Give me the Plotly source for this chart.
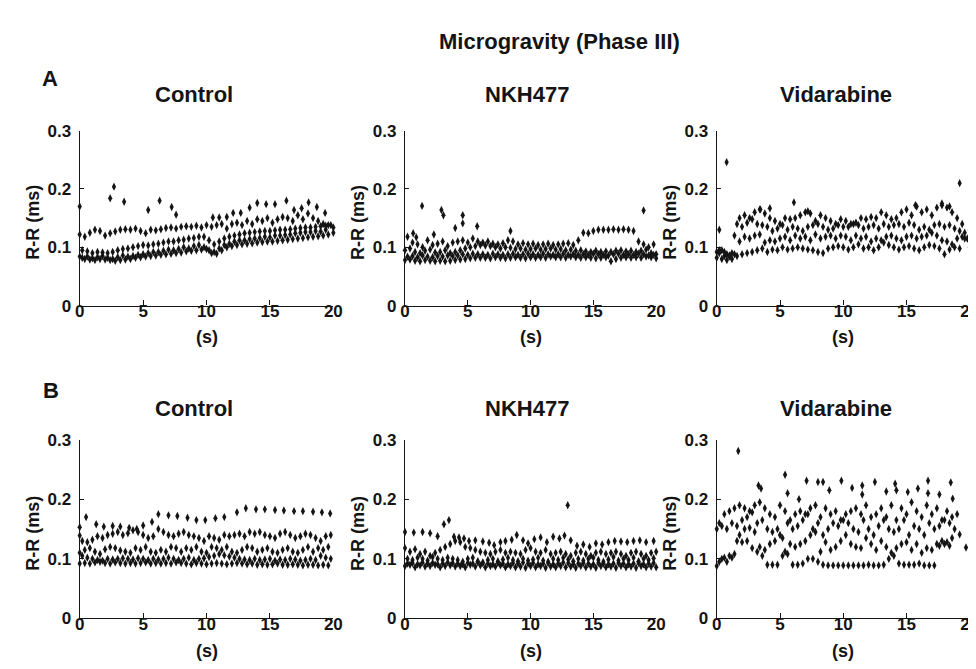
import plotly.graph_objects as go

# ---------------- data (R-R interval in thousandths of a second) ----------------
# beat-time grids (s)
t_even = [0.0, 0.4, 0.8, 1.2, 1.6, 2.0, 2.4, 2.8, 3.2, 3.6, 4.0, 4.4, 4.8, 5.2, 5.6, 6.0, 6.4,
          6.8, 7.2, 7.6, 8.0, 8.4, 8.8, 9.2, 9.6, 10.0, 10.4, 10.8, 11.2, 11.6, 12.0, 12.4, 12.8,
          13.2, 13.6, 14.0, 14.4, 14.8, 15.2, 15.6, 16.0, 16.4, 16.8, 17.2, 17.6, 18.0, 18.4,
          18.8, 19.2, 19.6, 20.0]
t_odd = [0.2, 0.6, 1.0, 1.4, 1.8, 2.2, 2.6, 3.0, 3.4, 3.8, 4.2, 4.6, 5.0, 5.4, 5.8, 6.2, 6.6,
         7.0, 7.4, 7.8, 8.2, 8.6, 9.0, 9.4, 9.8, 10.2, 10.6, 11.0, 11.4, 11.8, 12.2, 12.6, 13.0,
         13.4, 13.8, 14.2, 14.6, 15.0, 15.4, 15.8, 16.2, 16.6, 17.0, 17.4, 17.8, 18.2, 18.6,
         19.0, 19.4, 19.8]

# ---- A / Control
a1_low = [84, 80, 79, 78, 80, 79, 78, 77, 78, 79, 80, 82, 83, 84, 85, 86, 87, 88, 89, 90, 91,
          93, 94, 95, 96, 97, 90, 89, 95, 100, 102, 104, 105, 106, 107, 108, 109, 110, 110, 111,
          112, 113, 114, 115, 116, 117, 118, 119, 120, 122, 125]
a1_low2 = [82, 84, 81, 83, 85, 82, 80, 83, 86, 84, 85, 87, 88, 90, 92, 92, 94, 96, 95, 97,
           100, 98, 102, 104, 100, 95, 92, 98, 104, 106, 110, 112, 112, 114, 115, 116, 118, 117,
           120, 120, 121, 122, 124, 125, 126, 126, 128, 127, 130, None]
a1_mid = [95, 93, 90, 92, 91, 90, 92, 95, 97, 98, 100, 102, 104, 103, 105, 106, 108, 110, 110,
          112, 113, 115, 116, 118, 118, 112, 105, 110, 115, 118, 120, 122, 124, 125, 126, 127,
          128, 128, 129, 130, 130, 131, 132, 133, 134, 134, 135, 136, 137, 138]
a1_high = [122, 118, 125, 130, 128, 120, 124, 127, 130, 131, 130, 132, 128, 124, 130, 129, 131,
           133, 134, 132, 135, 136, 135, 137, 134, 138, 135, 138, 140, 132, 140, 142, 138, 145,
           140, 148, 145, 150, 142, 148, 152, 150, 145, 155, 148, 158, 150, 145, 140, 138, 134]
a1_top_t = [0.0, 2.4, 2.7, 3.5, 5.4, 6.3, 7.25, 7.6, 10.5, 11.0, 11.6, 12.1, 12.7, 13.4, 14.0,
            14.7, 15.4, 16.3, 16.9, 17.5, 18.05, 18.7, 19.35]
a1_top_rr = [170, 184, 204, 178, 164, 180, 169, 156, 151, 151, 152, 159, 159, 168, 176, 174,
             174, 180, 164, 167, 177, 169, 159]

# ---- A / NKH477
a2_low = [78, 79, 77, 76, 78, 77, 76, 77, 76, 77, 78, 79, 80, 81, 82, 82, 82, 81, 83, 82, 81,
          82, 83, 82, 81, 83, 82, 83, 82, 84, 83, 83, 82, 84, 83, 82, 83, 82, 81, 82, 83, 76,
          80, 82, 83, 82, 83, 82, 84, 83, 81]
a2_low2 = [84, 85, 83, 86, 84, 83, 85, 84, 86, 85, 86, 88, 87, 89, 88, 88, 87, 89, 88, 87, 88,
           89, 87, 88, 89, 88, 87, 89, 88, 87, 88, 89, 87, 88, 87, 88, 87, 89, 88, 87, 86, 88,
           89, 87, 88, 87, 89, 88, 86, 87]
a2_mid = [95, 98, 92, 90, 94, 96, 91, 92, 95, 90, 92, 95, 98, 100, 102, 104, 103, 102, 100, 98,
          100, 99, 97, 98, 96, 97, 98, 96, 97, 98, 96, 97, 95, 96, 94, 95, 93, 92, 94, 92, 93,
          92, 94, 95, 93, 94, 92, 94, 96, 90, 88]
a2_high = [118, 108, 105, 100, 112, 104, 106, 110, 102, 108, 110, 112, 108, 115, 110, 108, 110,
           106, 105, 107, 112, 110, 105, 107, 105, 106, 104, 105, 106, 104, 105, 106, 107, 104,
           112, 125, 124, 128, 130, 130, 130, 131, 130, 131, 130, 128, 110, 105, 100, 105]
a2_top_t = [0.65, 0.9, 1.36, 2.3, 2.9, 3.06, 4.0, 4.6, 4.6, 5.75, 8.4, 19.0]
a2_top_rr = [124, 117, 171, 122, 164, 155, 133, 155, 141, 136, 128, 163]

# ---- A / Vidarabine
a3_b1 = [82, 80, 78, 80, 85, 88, 90, 92, 95, 98, 92, 96, 95, 100, 96, 98, 100, 98, 96, 95, 92,
         90, 98, 100, 102, 100, 96, 100, 105, 98, 100, 95, 100, 108, 104, 100, 96, 100, 102, 98,
         95, 100, 104, 102, 98, 88, 96, 100, 98, 115, 100]
a3_b2 = [90, 85, 84, 88, 110, 118, 115, 120, 122, 108, 112, 110, 115, 118, 112, 120, 115, 118,
         112, 122, 115, 118, 120, 115, 120, 118, 112, 120, 115, 118, 110, 115, 112, 118, 120,
         115, 112, 118, 120, 115, 118, 120, 125, 120, 112, 110, 105, 115, 118, 115]
a3_b3 = [92, 95, 88, 90, 140, 135, 142, 148, 140, 138, 135, 128, 132, 138, 130, 135, 132, 128,
         135, 138, 140, 135, 130, 132, 138, 135, 135, 140, 138, 132, 135, 138, 132, 140, 135,
         138, 140, 135, 142, 138, 130, 135, 130, 138, 140, 135, 138, 132, 128, 125, 130]
a3_b4 = [95, 92, 86, 120, 150, 155, 150, 160, 165, 158, 150, 145, 140, 150, 148, 150, 155, 160,
         158, 145, 155, 150, 145, 140, 148, 145, 140, 142, 150, 148, 152, 150, 160, 155, 148,
         150, 160, 165, 155, 170, 160, 165, 155, 168, 172, 168, 160, 150, 140, None]
a3_top_t = [0.2, 0.78, 6.1, 19.2, 3.45, 4.2, 7.2, 15.7, 17.8, 18.4]
a3_top_rr = [130, 246, 177, 210, 165, 167, 162, 172, 175, 170]

# ---- B / Control
b1_b1 = [92, 93, 92, 94, 95, 93, 92, 94, 93, 92, 93, 92, 93, 94, 92, 93, 92, 93, 92, 94, 93,
         92, 91, 93, 92, 91, 92, 93, 92, 91, 92, 93, 92, 91, 92, 90, 91, 90, 91, 92, 90, 90,
         91, 90, 89, 90, 90, 89, 90, 89, None]
b1_b2 = [105, 102, 100, 98, 97, 100, 99, 100, 101, 100, 99, 101, 100, 98, 100, 99, 100, 102,
         100, 98, 100, 102, 98, 100, 101, 103, 105, 108, 106, 104, 102, 100, 99, 98, 100, 98,
         99, 100, 97, 99, 98, 100, 99, 97, 98, 100, 98, 105, 102, 100]
b1_b3 = [110, 115, 118, 112, 108, 116, 120, 118, 114, 112, 110, 118, 115, 120, 112, 110, 115,
         112, 120, 118, 112, 118, 115, 120, 112, 110, 120, 118, 115, 120, 112, 110, 115, 120,
         118, 112, 115, 118, 112, 110, 115, 118, 112, 110, 115, 120, 112, 118, 115, 120, None]
b1_b4 = [130, 128, 132, 138, 135, 140, 142, 145, 140, 143, 148, 145, 140, 135, 138, 150, 145,
         140, 138, 142, 145, 140, 138, 135, 130, 138, 135, 132, 140, 138, 140, 142, 138, 145,
         142, 145, 140, 138, 135, 142, 145, 140, 135, 138, 142, 140, 135, 130, 138, 140]
b1_top_t = [0.0, 0.0, 0.5, 1.3, 1.9, 2.6, 3.2, 3.9, 4.5, 5.0, 5.7, 6.2, 7.0, 7.7, 8.5, 9.2, 9.9,
            10.7, 11.4, 12.4, 13.1, 13.9, 14.6, 15.4, 16.1, 16.9, 17.6, 18.4, 19.1, 19.75]
b1_top_rr = [153, 139, 170, 158, 154, 155, 154, 152, 150, 156, 162, 175, 173, 172, 169, 165,
             165, 168, 170, 178, 185, 183, 183, 182, 181, 180, 180, 179, 178, 176]

# ---- B / NKH477
b2_b1 = [88, 90, 86, 89, 87, 88, 90, 86, 88, 89, 87, 88, 86, 90, 87, 89, 86, 88, 87, 89, 86,
         88, 86, 87, 85, 88, 86, 88, 85, 87, 86, 88, 86, 87, 85, 88, 86, 87, 85, 88, 86, 87,
         85, 88, 86, 87, 85, 88, 86, 87, 86]
b2_b2 = [100, 98, 102, 100, 97, 103, 100, 98, 102, 100, 98, 95, 100, 102, 96, 94, 98, 100, 96,
         99, 102, 98, 96, 100, 97, 99, 102, 97, 95, 100, 98, 102, 99, 96, 100, 97, 100, 102,
         98, 95, 99, 103, 97, 100, 98, 102, 96, 100, 98, 101]
b2_b3 = [118, 112, 116, 108, 112, 105, 110, 115, 120, 125, 130, 128, 120, 118, 115, 112, 110,
         108, 112, 115, 110, 112, 110, 108, 115, 118, 112, 110, 115, 108, 110, 112, 108, 105,
         110, 112, 108, 105, 110, 112, 108, 110, 112, 108, 105, 110, 112, 108, 105, 110, 112]
b2_b4 = [92, 93, 91, 94, 92, 93, 91, 92, 94, 93, 92, 91, 93, 92, 94, 93, 92, 91, 93, 92, 91,
         93, 92, 94, 92, 93, 91, 92, 93, 91, 92, 94, 93, 91, 92, 93, 92, 91, 93, 92, 91, 92,
         93, 92, 91, 92, 93, 91, 92, 93]
b2_top_t = [0.0, 0.7, 1.4, 2.0, 2.6, 3.1, 3.5, 3.9, 4.3, 4.7, 5.1, 5.6, 6.2, 6.7, 7.1, 7.6,
            8.0, 8.5, 8.9, 9.4, 9.8, 10.3, 10.8, 11.3, 11.8, 12.3, 12.7, 13.2, 13.7, 14.2, 14.7,
            15.2, 15.7, 16.2, 16.7, 17.2, 17.7, 18.2, 18.7, 19.2, 19.8, 12.96]
b2_top_rr = [145, 144, 145, 143, 138, 158, 165, 137, 136, 134, 130, 131, 129, 127, 123, 128,
             130, 132, 140, 131, 126, 133, 136, 128, 137, 134, 139, 131, 122, 124, 120, 126,
             124, 128, 130, 129, 128, 130, 131, 128, 130, 190]

# ---- B / Vidarabine
b3_b1 = [88, 100, 95, 102, 130, 128, 130, 118, 112, 105, 90, 90, 90, 105, 108, 90, 90, 92, 100,
         100, 95, 90, 89, 89, 89, 89, 89, 89, 89, 89, 90, 89, 89, 90, 100, 105, 92, 90, 90, 90,
         92, 89, 89, 89, 122, 125, 122, None, None, None, None]
b3_b2 = [95, 102, 105, 108, 140, 150, 152, 145, 120, 115, 125, 130, 140, 112, 125, 120, 125,
         130, 140, 145, 112, 128, 115, 120, 130, 140, 125, 120, 118, 135, 125, 115, 130, 120,
         110, 118, 125, 128, 115, 125, 110, 118, 115, 125, 130, 128, 135, None, None, None]
b3_b3 = [150, 155, 150, 160, 155, 165, 170, 178, 160, 165, 150, 145, 150, 135, 160, 150, 155,
         165, 175, 150, 160, 140, 150, 160, 155, 165, 160, 150, 145, 165, 150, 140, 155, 165,
         150, 145, 150, 165, 140, 155, 150, 140, 160, 150, 155, 165, 160, 150, None, None, None]
b3_b4 = [160, 175, 180, 185, 190, 185, 180, 190, 195, 185, 175, 170, 190, 180, 165, 175, 180,
         175, 185, 190, 170, 185, 175, 180, 165, 175, 180, 185, 175, 190, 170, 175, 185, 170,
         190, 165, 185, 175, 195, 180, 170, 190, 175, 185, 165, 180, 170, 175, None, None]
b3_top_t = [1.7, 3.3, 3.5, 5.4, 5.6, 6.5, 7.1, 8.0, 8.4, 8.9, 9.85, 10.7, 11.5, 11.5, 12.5,
            13.4, 14.1, 14.2, 15.1, 15.9, 16.7, 16.7, 17.6, 18.5, 18.65, 19.2, 19.7]
b3_top_rr = [281, 223, 218, 241, 210, 200, 231, 229, 229, 215, 231, 219, 223, 208, 229, 213,
             226, 215, 212, 218, 231, 210, 208, 228, 201, 141, 119]

panel_titles = ["Control", "NKH477", "Vidarabine"]
row_labels = ["A", "B"]
main_title = "Microgravity (Phase III)"
x_ticks = [0, 5, 10, 15, 20]
y_ticks = [0, 0.1, 0.2, 0.3]
y_ticktext = ["0", "0.1", "0.2", "0.3"]

panels = [
    [(t_even, a1_low), (t_odd, a1_low2), (t_odd, a1_mid), (t_even, a1_high), (a1_top_t, a1_top_rr)],
    [(t_even, a2_low), (t_odd, a2_low2), (t_even, a2_mid), (t_odd, a2_high), (a2_top_t, a2_top_rr)],
    [(t_even, a3_b1), (t_odd, a3_b2), (t_even, a3_b3), (t_odd, a3_b4), (a3_top_t, a3_top_rr)],
    [(t_even, b1_b1), (t_odd, b1_b2), (t_even, b1_b3), (t_odd, b1_b4), (b1_top_t, b1_top_rr)],
    [(t_even, b2_b1), (t_odd, b2_b2), (t_even, b2_b3), (t_odd, b2_b4), (b2_top_t, b2_top_rr)],
    [(t_even, b3_b1), (t_odd, b3_b2), (t_even, b3_b3), (t_odd, b3_b4), (b3_top_t, b3_top_rr)],
]

# ---------------- layout geometry (pixels of the 976x669 page) ----------------
W, H = 976, 669
def fx(p):
    return p / W
def fy(p):
    return 1 - p / H

cols = [(67.7, 325.0), (397.7, 652.5), (714.0, 970.7)]
rows = [(117.0, 297.0), (435.0, 619.0)]
FONT = "Liberation Sans, Arial, sans-serif"
INK = "#141414"

fig = go.Figure()
layout = {}
for i, bands in enumerate(panels):
    r, c = divmod(i, 3)
    idx = i + 1
    xs, ys = [], []
    for tt, rr in bands:
        assert len(tt) == len(rr), (i, len(tt), len(rr))
        for t, v in zip(tt, rr):
            if v is not None:
                xs.append(t)
                ys.append(v / 1000.0)
    fig.add_trace(go.Scatter(
        x=xs, y=ys, mode="markers", xaxis=f"x{idx}", yaxis=f"y{idx}",
        marker=dict(symbol="diamond-tall", size=6, color=INK, line=dict(width=0)),
        cliponaxis=False, showlegend=False, hoverinfo="skip"))
    axis_common = dict(showgrid=False, zeroline=False, showline=True, linecolor=INK,
                       linewidth=1.4, ticks="inside", tickcolor=INK, tickwidth=1.3,
                       tickfont=dict(family=FONT, size=17, color=INK, weight="bold"))
    layout[f"xaxis{idx}"] = dict(axis_common, domain=[fx(cols[c][0]), fx(cols[c][1])],
                                 range=[0, 20], tickvals=x_ticks, ticklen=5,
                                 ticklabelstandoff=-10,
                                 anchor=f"y{idx}", fixedrange=True)
    layout[f"yaxis{idx}"] = dict(axis_common, domain=[fy(rows[r][1]), fy(rows[r][0])],
                                 range=[0, 0.3], tickvals=y_ticks, ticktext=y_ticktext,
                                 ticklen=4, ticklabelstandoff=4,
                                 anchor=f"x{idx}", fixedrange=True)

ann = []
def text(s, x, y, size, angle=0):
    ann.append(dict(text=s, x=fx(x), y=fy(y), xref="paper", yref="paper", showarrow=False,
                    xanchor="center", yanchor="middle", textangle=angle,
                    font=dict(family=FONT, size=size, color=INK, weight="bold")))

text(main_title, 554, 25, 22)
text(row_labels[0], 38, 63, 22)
text(row_labels[1], 39, 384, 22)
title_x = [184, 521, 835]
title_y = [80, 403]
s_y = [329, 653]
for r in range(2):
    for c in range(3):
        text(panel_titles[c], title_x[c], title_y[r], 22)
        text("(s)", (cols[c][0] + cols[c][1]) / 2, s_y[r], 18)
        text("R-R (ms)", cols[c][0] - 47.7, (rows[r][0] + rows[r][1]) / 2 + 4, 18, angle=-90)

fig.update_layout(**layout)
fig.update_layout(width=W, height=H, margin=dict(l=0, r=0, t=0, b=0),
                  paper_bgcolor="white", plot_bgcolor="white", annotations=ann,
                  font=dict(family=FONT, color=INK))
fig.write_html("out.html", config={"displayModeBar": False})
